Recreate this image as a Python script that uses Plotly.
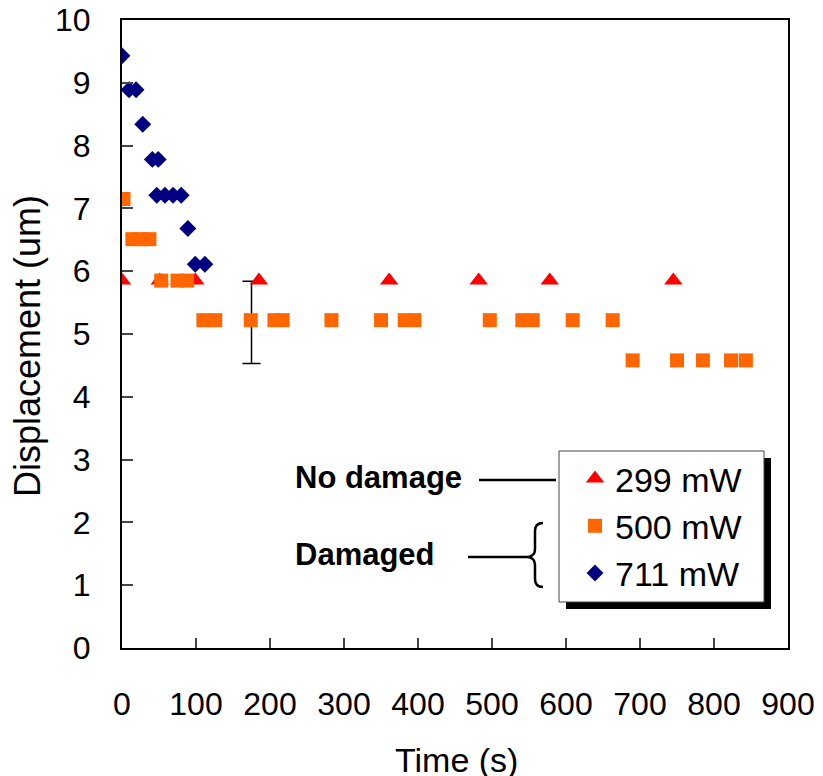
import plotly.graph_objects as go

# ---- data ----
t_299 = [0, 51, 99, 185, 361, 482, 578, 745]
d_299 = [5.85, 5.85, 5.85, 5.85, 5.85, 5.85, 5.85, 5.85]

t_500 = [2, 14, 26, 37, 53, 75, 88, 110, 126, 174, 206, 217, 283, 350, 382, 395,
         497, 541, 555, 609, 663, 690, 750, 785, 823, 843]
d_500 = [7.15, 6.51, 6.51, 6.51, 5.85, 5.85, 5.85, 5.22, 5.22, 5.22, 5.22, 5.22,
         5.22, 5.22, 5.22, 5.22, 5.22, 5.22, 5.22, 5.22, 5.22, 4.58, 4.58, 4.58,
         4.58, 4.58]

t_711 = [0, 9.5, 19, 28, 41, 49, 47, 58, 69, 80, 89, 99, 112]
d_711 = [9.43, 8.89, 8.89, 8.34, 7.78, 7.78, 7.21, 7.21, 7.21, 7.21, 6.68, 6.11, 6.11]

err_t = [175]
err_d = [5.22]
err_plus = [0.62]
err_minus = [0.69]

x_ticks = [0, 100, 200, 300, 400, 500, 600, 700, 800, 900]
y_ticks = [0, 1, 2, 3, 4, 5, 6, 7, 8, 9, 10]

FONT = "Liberation Sans, Arial, sans-serif"

# target plot area in window pixels
W, H = 823, 776
PL, PR, PT, PB = 122, 788, 20, 648
L, T = PL, PT
R, B = W - PR, H - PB
PW, PH = PR - PL, PB - PT


def px(x):
    return (x - PL) / PW


def py(y):
    return (PB - y) / PH


fig = go.Figure()

fig.add_trace(go.Scatter(
    x=err_t, y=err_d, mode="markers", showlegend=False, hoverinfo="skip",
    marker=dict(size=1, opacity=0),
    error_y=dict(type="data", symmetric=False, array=err_plus, arrayminus=err_minus,
                 color="black", thickness=1.5, width=9),
))
fig.add_trace(go.Scatter(
    x=t_299, y=d_299, mode="markers", name="299 mW",
    marker=dict(symbol="triangle-up", size=16, color="#FF0000"),
))
fig.add_trace(go.Scatter(
    x=t_500, y=d_500, mode="markers", name="500 mW",
    marker=dict(symbol="square", size=14, color="#FF6600"),
))
fig.add_trace(go.Scatter(
    x=t_711, y=d_711, mode="markers", name="711 mW",
    marker=dict(symbol="diamond", size=13, color="#000080"),
))

shapes = [
    # legend shadow and box
    dict(type="rect", xref="paper", yref="paper",
         x0=px(566), x1=px(771), y0=py(609), y1=py(458),
         fillcolor="black", line=dict(width=0), layer="below"),
    dict(type="rect", xref="paper", yref="paper",
         x0=px(559), x1=px(764), y0=py(602), y1=py(451),
         fillcolor="white", line=dict(color="#444", width=1), layer="below"),
    # connector lines
    dict(type="line", xref="paper", yref="paper",
         x0=px(479), x1=px(556), y0=py(480), y1=py(480),
         line=dict(color="black", width=2.5)),
    dict(type="line", xref="paper", yref="paper",
         x0=px(468), x1=px(528), y0=py(557), y1=py(557),
         line=dict(color="black", width=2.5)),
]

# curly brace
pts = "M {a},{b} Q {c},{b} {c},{d} L {c},{e} Q {c},{f} {g},{h} Q {c},{i} {c},{j} L {c},{k} Q {c},{l} {a},{l}"
brace = pts.format(
    a=px(543), b=py(523), c=px(535), d=py(531), e=py(549), f=py(556),
    g=px(528), h=py(557), i=py(558), j=py(565), k=py(579), l=py(587))
shapes.append(dict(type="path", xref="paper", yref="paper", path=brace,
                   line=dict(color="black", width=2.5)))

annotations = [
    dict(text="<b>No damage</b>", xref="paper", yref="paper", x=px(293), y=py(478),
         xanchor="left", yanchor="middle", showarrow=False,
         font=dict(family=FONT, size=31, color="black")),
    dict(text="<b>Damaged</b>", xref="paper", yref="paper", x=px(293), y=py(554),
         xanchor="left", yanchor="middle", showarrow=False,
         font=dict(family=FONT, size=31, color="black")),
    dict(text="Time (s)", xref="paper", yref="paper", x=px(456), y=py(760),
         xanchor="center", yanchor="middle", showarrow=False,
         font=dict(family=FONT, size=34, color="black")),
    dict(text="Displacement (um)", xref="paper", yref="paper", x=px(27), y=py(346),
         xanchor="center", yanchor="middle", showarrow=False, textangle=-90,
         font=dict(family=FONT, size=36, color="black")),
]

fig.update_layout(
    width=W, height=H,
    margin=dict(l=L, r=R, t=T, b=B, pad=0, autoexpand=False),
    paper_bgcolor="white", plot_bgcolor="white",
    font=dict(family=FONT, color="black"),
    showlegend=True,
    legend=dict(x=px(575), y=py(450), xanchor="left", yanchor="top",
                bgcolor="rgba(0,0,0,0)", borderwidth=0,
                font=dict(family=FONT, size=34, color="black"),
                traceorder="normal"),
    shapes=shapes,
    annotations=annotations,
)

fig.update_xaxes(
    range=[0, 900], tickvals=x_ticks, ticktext=[str(v) for v in x_ticks],
    showgrid=False, zeroline=False, automargin=False,
    showline=True, linecolor="black", linewidth=2, mirror=True,
    ticks="inside", ticklen=10, tickwidth=1.5, tickcolor="#444",
    ticklabelstandoff=27, ticklabeloverflow="allow",
    tickfont=dict(family=FONT, size=32, color="black"),
)
fig.update_yaxes(
    range=[0, 10], tickvals=y_ticks, ticktext=[str(v) for v in y_ticks],
    showgrid=False, zeroline=False, automargin=False,
    showline=True, linecolor="black", linewidth=2, mirror=True,
    ticks="inside", ticklen=11, tickwidth=1.5, tickcolor="#444",
    ticklabelstandoff=23, ticklabeloverflow="allow",
    tickfont=dict(family=FONT, size=32, color="black"),
)

fig.write_html("out.html", config={"displayModeBar": False},
               post_script="document.body.style.margin='0';")
